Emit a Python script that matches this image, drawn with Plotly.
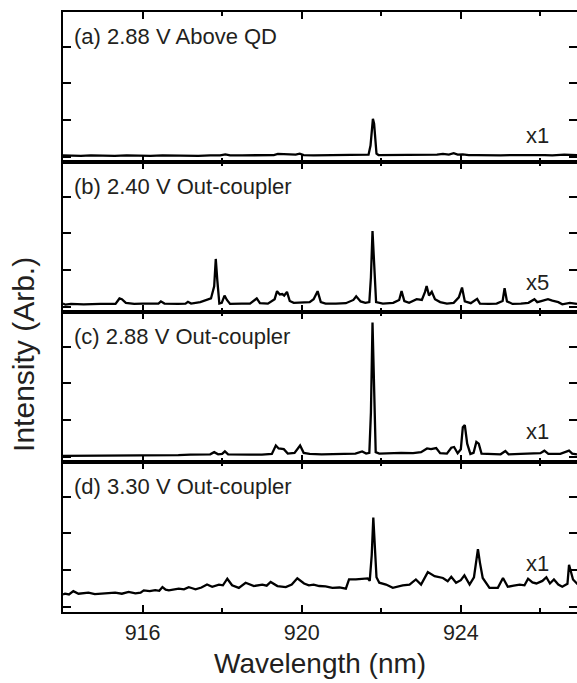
import plotly.graph_objects as go
from plotly.subplots import make_subplots

# ---------------- data ----------------
wl_a = [914.00, 914.20, 914.45, 914.70, 915.00, 915.30, 915.60, 915.90, 916.20, 916.50,
        916.80, 917.10, 917.40, 917.70, 917.95, 918.08, 918.20, 918.50, 918.80, 919.10,
        919.30, 919.40, 919.55, 919.70, 919.85, 919.95, 920.05, 920.30, 920.60, 920.90,
        921.20, 921.50, 921.68, 921.73, 921.76, 921.79, 921.82, 921.85, 921.88, 921.93,
        922.10, 922.40, 922.70, 923.00, 923.20, 923.40, 923.55, 923.70, 923.82, 923.92,
        924.05, 924.20, 924.40, 924.70, 925.00, 925.30, 925.60, 925.90, 926.10, 926.30,
        926.60, 926.92]
int_a = [0.03, 0.02, 0.02, 0.03, 0.02, 0.02, 0.03, 0.02, 0.02, 0.03,
         0.02, 0.03, 0.02, 0.03, 0.03, 0.06, 0.03, 0.03, 0.03, 0.04,
         0.04, 0.07, 0.06, 0.05, 0.05, 0.08, 0.04, 0.03, 0.03, 0.03,
         0.03, 0.04, 0.05, 0.30, 0.80, 1.03, 0.90, 0.35, 0.08, 0.04,
         0.04, 0.04, 0.05, 0.05, 0.06, 0.05, 0.07, 0.05, 0.09, 0.05,
         0.06, 0.04, 0.04, 0.03, 0.03, 0.04, 0.03, 0.04, 0.04, 0.03,
         0.05, 0.04]

wl_b = [914.00, 914.06, 914.20, 914.52, 914.94, 915.32, 915.42, 915.48, 915.58, 915.79,
        916.00, 916.21, 916.40, 916.46, 916.55, 916.89, 917.08, 917.14, 917.22, 917.45,
        917.60, 917.72, 917.80, 917.84, 917.88, 917.93, 917.99, 918.06, 918.12, 918.20,
        918.49, 918.70, 918.87, 918.95, 919.15, 919.32, 919.38, 919.45, 919.51, 919.56,
        919.63, 919.70, 919.80, 920.02, 920.20, 920.30, 920.40, 920.48, 920.60, 920.86,
        921.11, 921.30, 921.37, 921.48, 921.60, 921.70, 921.74, 921.78, 921.82, 921.87,
        922.04, 922.30, 922.45, 922.51, 922.58, 922.70, 922.89, 923.02, 923.10, 923.14,
        923.20, 923.27, 923.35, 923.48, 923.65, 923.82, 923.95, 924.03, 924.10, 924.25,
        924.41, 924.48, 924.70, 924.90, 925.05, 925.10, 925.16, 925.30, 925.51, 925.70,
        925.85, 925.92, 926.02, 926.19, 926.30, 926.45, 926.55, 926.74, 926.92]
int_b = [0.08, 0.05, 0.07, 0.06, 0.07, 0.07, 0.22, 0.20, 0.10, 0.07,
         0.08, 0.07, 0.08, 0.14, 0.08, 0.07, 0.08, 0.13, 0.08, 0.12,
         0.18, 0.22, 0.55, 1.30, 0.70, 0.08, 0.10, 0.30, 0.18, 0.07,
         0.08, 0.08, 0.22, 0.09, 0.08, 0.20, 0.42, 0.33, 0.34, 0.30,
         0.40, 0.15, 0.10, 0.12, 0.12, 0.20, 0.42, 0.12, 0.08, 0.08,
         0.09, 0.18, 0.28, 0.14, 0.10, 0.12, 0.80, 2.06, 1.10, 0.12,
         0.08, 0.10, 0.18, 0.42, 0.15, 0.10, 0.20, 0.18, 0.40, 0.56,
         0.30, 0.40, 0.20, 0.12, 0.08, 0.10, 0.25, 0.52, 0.14, 0.09,
         0.21, 0.08, 0.07, 0.08, 0.15, 0.50, 0.14, 0.07, 0.08, 0.10,
         0.20, 0.12, 0.15, 0.20, 0.16, 0.12, 0.06, 0.10, 0.07]

wl_c = [914.00, 914.20, 914.50, 914.80, 915.10, 915.40, 915.70, 916.00, 916.30, 916.60,
        916.90, 917.20, 917.50, 917.70, 917.80, 917.90, 918.00, 918.07, 918.15, 918.40,
        918.70, 919.00, 919.25, 919.35, 919.42, 919.55, 919.65, 919.82, 919.96, 920.05,
        920.20, 920.50, 920.80, 921.10, 921.35, 921.52, 921.62, 921.70, 921.74, 921.78,
        921.82, 921.86, 921.95, 922.20, 922.50, 922.80, 923.00, 923.15, 923.25, 923.38,
        923.48, 923.65, 923.76, 923.83, 923.92, 924.00, 924.05, 924.10, 924.16, 924.24,
        924.32, 924.39, 924.45, 924.52, 924.80, 925.00, 925.12, 925.20, 925.50, 925.80,
        926.00, 926.10, 926.20, 926.50, 926.72, 926.80, 926.92]
int_c = [0.02, 0.02, 0.03, 0.03, 0.04, 0.03, 0.04, 0.04, 0.03, 0.04,
         0.04, 0.05, 0.05, 0.06, 0.12, 0.06, 0.07, 0.14, 0.06, 0.05,
         0.05, 0.05, 0.07, 0.30, 0.22, 0.20, 0.08, 0.10, 0.30, 0.10,
         0.07, 0.06, 0.06, 0.07, 0.08, 0.14, 0.08, 0.10, 1.20, 3.66,
         1.80, 0.12, 0.08, 0.09, 0.10, 0.09, 0.12, 0.22, 0.20, 0.23,
         0.09, 0.08, 0.24, 0.26, 0.09, 0.20, 0.80, 0.86, 0.35, 0.07,
         0.10, 0.40, 0.35, 0.08, 0.06, 0.06, 0.15, 0.06, 0.07, 0.07,
         0.09, 0.16, 0.07, 0.07, 0.16, 0.08, 0.06]

wl_d = [914.00, 914.05, 914.15, 914.26, 914.39, 914.52, 914.64, 914.80, 914.97, 915.14,
        915.31, 915.48, 915.65, 915.82, 915.95, 916.03, 916.18, 916.32, 916.42, 916.50,
        916.58, 916.66, 916.80, 916.91, 917.04, 917.16, 917.25, 917.33, 917.48, 917.62,
        917.75, 917.92, 918.02, 918.13, 918.25, 918.42, 918.59, 918.70, 918.80, 919.01,
        919.12, 919.22, 919.39, 919.60, 919.75, 919.89, 920.06, 920.18, 920.30, 920.44,
        920.60, 920.77, 920.95, 921.11, 921.19, 921.36, 921.53, 921.66, 921.71, 921.76,
        921.80, 921.84, 921.88, 921.95, 922.12, 922.29, 922.40, 922.54, 922.71, 922.87,
        923.00, 923.17, 923.34, 923.45, 923.55, 923.67, 923.76, 923.88, 924.00, 924.09,
        924.22, 924.33, 924.38, 924.43, 924.48, 924.55, 924.72, 924.93, 925.06, 925.18,
        925.33, 925.48, 925.60, 925.69, 925.80, 925.90, 926.05, 926.15, 926.24, 926.34,
        926.45, 926.55, 926.68, 926.72, 926.82, 926.96]
int_d = [0.33, 0.35, 0.33, 0.42, 0.35, 0.37, 0.38, 0.34, 0.35, 0.37,
         0.38, 0.35, 0.40, 0.36, 0.38, 0.44, 0.42, 0.45, 0.43, 0.53,
         0.46, 0.44, 0.47, 0.49, 0.47, 0.53, 0.50, 0.47, 0.52, 0.60,
         0.54, 0.60, 0.58, 0.76, 0.58, 0.51, 0.65, 0.60, 0.56, 0.60,
         0.57, 0.67, 0.56, 0.53, 0.60, 0.77, 0.63, 0.58, 0.60, 0.56,
         0.55, 0.51, 0.52, 0.49, 0.74, 0.74, 0.76, 0.77, 0.70, 1.40,
         2.43, 1.50, 0.80, 0.65, 0.60, 0.51, 0.55, 0.58, 0.60, 0.74,
         0.60, 0.94, 0.83, 0.80, 0.78, 0.69, 0.81, 0.65, 0.72, 0.85,
         0.60, 0.80, 1.20, 1.57, 1.20, 0.78, 0.51, 0.51, 0.78, 0.54,
         0.57, 0.60, 0.58, 0.76, 0.66, 0.63, 0.70, 0.80, 0.63, 0.74,
         0.60, 0.54, 0.62, 1.14, 0.74, 0.58]

panel_labels = ["(a) 2.88 V Above QD", "(b) 2.40 V Out-coupler",
                "(c) 2.88 V Out-coupler", "(d) 3.30 V Out-coupler"]
scale_labels = ["x1", "x5", "x1", "x1"]
scale_label_y = [0.18, 0.20, 0.205, 0.325]

x_range = [914.0, 926.92]
y_range = [-0.15, 3.95]

series = [(wl_a, int_a), (wl_b, int_b), (wl_c, int_c), (wl_d, int_d)]
for w, v in series:
    assert len(w) == len(v), (len(w), len(v))

FONT = "Liberation Sans, Arial, Helvetica, sans-serif"
TXT = "#231f20"

fig = make_subplots(rows=4, cols=1, shared_xaxes=True, vertical_spacing=0)

for i, (w, v) in enumerate(series):
    fig.add_trace(go.Scatter(x=w, y=v, mode="lines",
                             line=dict(color="black", width=2.3),
                             showlegend=False, hoverinfo="skip"),
                  row=i + 1, col=1)

fig.update_xaxes(range=x_range, showline=True, linewidth=2, linecolor="black",
                 mirror="ticks", ticks="inside", ticklen=7, tickwidth=2,
                 tickcolor="black", tick0=916, dtick=4,
                 minor=dict(ticks="inside", tick0=914, dtick=2, ticklen=4,
                            tickwidth=2, tickcolor="black"),
                 showgrid=False, zeroline=False,
                 tickfont=dict(size=21.5, family=FONT, color=TXT))

fig.update_yaxes(range=y_range, showline=True, linewidth=2, linecolor="black",
                 mirror=False, ticks="inside", ticklen=8, tickwidth=2,
                 tickcolor="black", tick0=0, dtick=1, showticklabels=False,
                 showgrid=False, zeroline=False)

# right-hand tick marks (no right border line, as in the reference)
for i in range(4):
    yname = "y" if i == 0 else f"y{i + 1}"
    xname = "x" if i == 0 else f"x{i + 1}"
    new_ax = 5 + i
    fig.update_layout({f"yaxis{new_ax}": dict(
        overlaying=yname, side="right", anchor=xname, range=y_range,
        ticks="inside", ticklen=8, tickwidth=2, tickcolor="black",
        tick0=0, dtick=1, showticklabels=False, showline=False,
        showgrid=False, zeroline=False)})
    fig.add_trace(go.Scatter(x=[], y=[], xaxis=xname, yaxis=f"y{new_ax}",
                             showlegend=False, hoverinfo="skip"))

for i in range(4):
    xd = "x domain" if i == 0 else f"x{i + 1} domain"
    yd = "y domain" if i == 0 else f"y{i + 1} domain"
    fig.add_annotation(text=panel_labels[i], xref=xd, yref=yd, x=0.0175, y=0.835,
                       xanchor="left", yanchor="middle", showarrow=False,
                       font=dict(size=22, family=FONT, color=TXT))
    fig.add_annotation(text=scale_labels[i], xref=xd, yref=yd, x=0.949,
                       y=scale_label_y[i], xanchor="right", yanchor="middle",
                       showarrow=False, font=dict(size=22, family=FONT, color=TXT))

fig.add_annotation(text="Wavelength (nm)", xref="paper", yref="paper", x=0.5, y=-0.0855,
                   xanchor="center", yanchor="middle", showarrow=False,
                   font=dict(size=28, family=FONT, color=TXT))
fig.add_annotation(text="Intensity (Arb.)", xref="paper", yref="paper", x=-0.078, y=0.43,
                   xanchor="center", yanchor="middle", textangle=-90, showarrow=False,
                   font=dict(size=30, family=FONT, color=TXT))

fig.update_layout(width=577, height=683, margin=dict(l=63, r=0, t=12, b=71),
                  paper_bgcolor="white", plot_bgcolor="white", showlegend=False)

fig.write_html("out.html")
